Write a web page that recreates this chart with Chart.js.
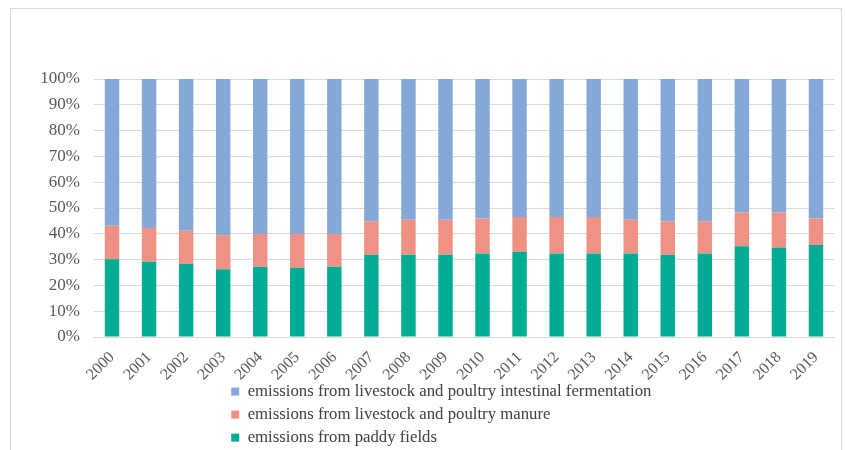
<!DOCTYPE html>
<html>
<head>
<meta charset="utf-8">
<script src="https://cdn.jsdelivr.net/npm/chart.js@4/dist/chart.umd.min.js"></script>
<style>
  html, body { margin: 0; padding: 0; background: #ffffff; }
  #wrap { position: relative; width: 846px; height: 450px; overflow: hidden; }
  #chart { position: absolute; left: 0; top: 0; }
  #frame {
    position: absolute; left: 10px; top: 8px; width: 830px; height: 460px;
    border: 1px solid #d9d9d9; pointer-events: none;
  }
</style>
</head>
<body>
<div id="wrap">
  <canvas id="chart" width="846" height="450"></canvas>
  <div id="frame"></div>
</div>
<script>
// Years on the category axis
const years = ['2000','2001','2002','2003','2004','2005','2006','2007','2008','2009',
               '2010','2011','2012','2013','2014','2015','2016','2017','2018','2019'];

// Share of total emissions (%) per source
const paddyFields = [30.1, 29.2, 28.3, 26.3, 27.2, 26.8, 27.2, 31.9, 31.9, 31.9,
                     32.4, 32.9, 32.4, 32.4, 32.4, 31.9, 32.4, 35.2, 34.7, 35.7];
const manure      = [13.0, 13.0, 12.9, 13.1, 12.7, 13.1, 12.7, 13.0, 13.5, 13.5,
                     13.5, 13.6, 14.1, 14.1, 13.0, 13.0, 12.5, 13.1, 13.6, 10.2];
const intestinal  = [56.9, 57.8, 58.8, 60.6, 60.1, 60.1, 60.1, 55.1, 54.6, 54.6,
                     54.1, 53.5, 53.5, 53.5, 54.6, 55.1, 55.1, 51.7, 51.7, 54.1];

// Percent ticks on the value axis
const yTicks = [0, 10, 20, 30, 40, 50, 60, 70, 80, 90, 100];

const serif = '"Liberation Serif", "Times New Roman", "DejaVu Serif", serif';

// Legend as a left-aligned vertical list: narrow its wrapping width so each
// entry gets its own row, let it overlap the space below the year labels,
// then move the box to its final spot.
const LEGEND_WRAP = 450;
const LEGEND_RESERVED = 53;   // height the legend claims in the layout
const X_AXIS_HEIGHT = 60;     // room for the rotated year labels
const legendPlacer = {
  id: 'legendPlacer',
  beforeLayout(chart) {
    const lg = chart.legend;
    if (lg && !lg.__narrowed) {
      const origUpdate = lg.update.bind(lg);
      lg.update = (w, h, m) => {
        origUpdate(Math.min(w, LEGEND_WRAP), h, m);
        lg.__fullHeight = lg.height;
        lg.height = LEGEND_RESERVED;
      };
      lg.__narrowed = true;
    }
  },
  afterLayout(chart) {
    const lg = chart.legend;
    if (!lg) return;
    lg.left = 225;
    lg.right = lg.left + LEGEND_WRAP;
    lg.width = LEGEND_WRAP;
    lg.top = 377;
    lg.height = lg.__fullHeight || lg.height;
    lg.bottom = lg.top + lg.height;
  }
};

new Chart(document.getElementById('chart'), {
  type: 'bar',
  data: {
    labels: years,
    datasets: [
      { label: 'emissions from paddy fields', data: paddyFields, backgroundColor: '#00ad94' },
      { label: 'emissions from livestock and poultry manure', data: manure, backgroundColor: '#f09283' },
      { label: 'emissions from livestock and poultry intestinal fermentation', data: intestinal, backgroundColor: '#84a9d8' }
    ]
  },
  options: {
    responsive: false,
    animation: false,
    devicePixelRatio: 1,
    layout: { padding: { top: 79, left: 0, right: 11.5, bottom: 0 } },
    datasets: {
      bar: { categoryPercentage: 1.0, barPercentage: 0.39 }
    },
    plugins: {
      tooltip: { enabled: false },
      legend: {
        position: 'bottom',
        align: 'start',
        reverse: true,
        labels: {
          boxWidth: 8,
          boxHeight: 8,
          padding: 6.25,
          color: '#404040',
          font: { family: serif, size: 16.75 }
        }
      }
    },
    scales: {
      x: {
        stacked: true,
        grid: { display: false, drawTicks: false },
        border: { display: true, color: '#d9d9d9', width: 1 },
        ticks: {
          autoSkip: false,
          minRotation: 45,
          maxRotation: 45,
          padding: 11,
          color: '#595959',
          font: { family: serif, size: 16 }
        },
        afterFit(scale) { scale.height = X_AXIS_HEIGHT; }
      },
      y: {
        stacked: true,
        min: 0,
        max: 100,
        grid: { color: '#d9d9d9', lineWidth: 1, drawTicks: false },
        border: { display: false },
        afterBuildTicks(scale) { scale.ticks = yTicks.map(v => ({ value: v })); },
        ticks: {
          padding: 13.5,
          color: '#595959',
          font: { family: serif, size: 17 },
          callback: v => v + '%'
        },
        afterFit(scale) { scale.width = 93.5; }
      }
    }
  },
  plugins: [legendPlacer]
});
</script>
</body>
</html>
